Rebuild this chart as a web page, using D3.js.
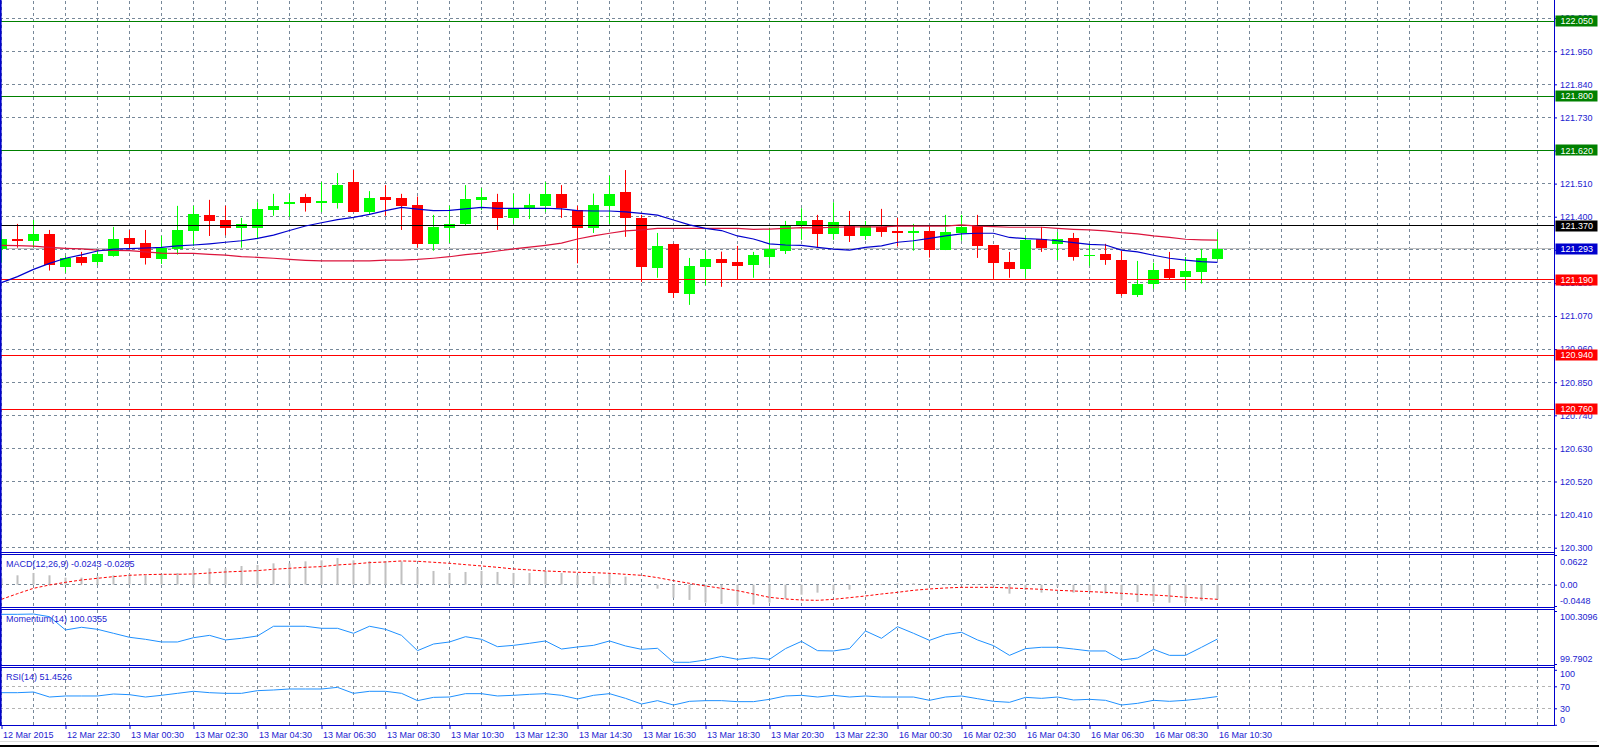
<!DOCTYPE html>
<html>
<head>
<meta charset="utf-8">
<script src="https://cdn.jsdelivr.net/npm/d3@7"></script>
<style>
  html, body { margin: 0; padding: 0; background: #ffffff; }
  svg { display: block; }
</style>
</head>
<body>
<svg id="chart" width="1599" height="747"></svg>
<script>
// ---------------- DATA ----------------
const timeLabels = ["12 Mar 2015","12 Mar 22:30","13 Mar 00:30","13 Mar 02:30","13 Mar 04:30","13 Mar 06:30","13 Mar 08:30","13 Mar 10:30","13 Mar 12:30","13 Mar 14:30","13 Mar 16:30","13 Mar 18:30","13 Mar 20:30","13 Mar 22:30","16 Mar 00:30","16 Mar 02:30","16 Mar 04:30","16 Mar 06:30","16 Mar 08:30","16 Mar 10:30"];

const open = [121.292,121.327,121.320,121.343,121.234,121.266,121.251,121.270,121.330,121.313,
121.261,121.292,121.354,121.406,121.389,121.361,121.361,121.422,121.443,121.465,
121.447,121.447,121.515,121.417,121.465,121.462,121.439,121.310,121.363,121.376,
121.456,121.449,121.396,121.429,121.436,121.476,121.422,121.363,121.436,121.482,
121.396,121.230,121.310,121.143,121.233,121.260,121.250,121.240,121.266,121.286,
121.369,121.389,121.343,121.373,121.336,121.366,121.353,121.346,121.353,121.290,
121.346,121.369,121.306,121.250,121.227,121.326,121.310,121.330,121.271,121.276,
121.256,121.140,121.177,121.227,121.200,121.217,121.261];

const high = [121.356,121.376,121.389,121.356,121.270,121.283,121.289,121.366,121.356,121.356,
121.336,121.436,121.436,121.456,121.436,121.396,121.448,121.476,121.476,121.476,
121.515,121.545,121.555,121.485,121.505,121.476,121.467,121.406,121.436,121.505,
121.495,121.476,121.476,121.476,121.515,121.505,121.436,121.477,121.535,121.555,
121.406,121.346,121.311,121.263,121.289,121.284,121.303,121.283,121.363,121.386,
121.428,121.406,121.448,121.419,121.386,121.426,121.396,121.376,121.369,121.406,
121.406,121.406,121.306,121.283,121.336,121.366,121.349,121.346,121.310,121.310,
121.286,121.253,121.247,121.283,121.266,121.293,121.349];

const low = [121.247,121.297,121.298,121.221,121.214,121.238,121.238,121.267,121.294,121.241,
121.243,121.274,121.303,121.336,121.338,121.297,121.325,121.403,121.400,121.417,
121.416,121.427,121.416,121.409,121.403,121.356,121.297,121.287,121.313,121.369,
121.422,121.356,121.376,121.392,121.416,121.396,121.245,121.346,121.376,121.333,
121.183,121.197,121.130,121.107,121.173,121.167,121.193,121.197,121.240,121.276,
121.323,121.297,121.323,121.316,121.323,121.333,121.301,121.287,121.264,121.289,
121.320,121.263,121.194,121.197,121.197,121.283,121.256,121.254,121.237,121.240,
121.137,121.133,121.160,121.190,121.157,121.178,121.258];

const close = [121.325,121.320,121.343,121.238,121.264,121.247,121.276,121.326,121.310,121.264,
121.296,121.356,121.409,121.387,121.361,121.376,121.426,121.436,121.449,121.447,
121.452,121.505,121.417,121.462,121.456,121.436,121.310,121.366,121.376,121.459,
121.465,121.396,121.426,121.439,121.476,121.429,121.363,121.439,121.476,121.396,
121.233,121.303,121.147,121.237,121.260,121.246,121.237,121.273,121.293,121.373,
121.386,121.343,121.383,121.336,121.373,121.349,121.346,121.353,121.290,121.349,
121.366,121.303,121.246,121.227,121.323,121.296,121.326,121.266,121.273,121.256,
121.143,121.177,121.223,121.197,121.220,121.263,121.293];

const maFast = [121.181,121.201,121.225,121.245,121.262,121.273,121.286,121.292,121.294,121.296,
121.298,121.303,121.306,121.310,121.315,121.320,121.328,121.339,121.354,121.369,
121.380,121.390,121.398,121.408,121.420,121.431,121.425,121.420,121.421,121.426,
121.431,121.428,121.428,121.428,121.428,121.426,121.420,121.419,121.419,121.416,
121.411,121.405,121.389,121.373,121.361,121.354,121.336,121.326,121.310,121.306,
121.305,121.298,121.292,121.289,121.298,121.303,121.315,121.320,121.328,121.336,
121.343,121.345,121.345,121.331,121.327,121.325,121.320,121.314,121.308,121.306,
121.289,121.283,121.272,121.262,121.256,121.251,121.248];

const maSlow = [121.305,121.304,121.302,121.298,121.295,121.293,121.289,121.288,121.287,121.283,
121.279,121.278,121.278,121.275,121.272,121.267,121.265,121.262,121.258,121.255,
121.253,121.253,121.253,121.253,121.256,121.256,121.258,121.262,121.267,121.274,
121.279,121.286,121.293,121.299,121.305,121.312,121.326,121.336,121.345,121.353,
121.356,121.361,121.361,121.361,121.361,121.361,121.361,121.358,121.359,121.361,
121.364,121.363,121.365,121.366,121.366,121.366,121.369,121.369,121.369,121.369,
121.373,121.369,121.367,121.365,121.365,121.365,121.361,121.358,121.356,121.353,
121.347,121.343,121.336,121.331,121.325,121.323,121.322];

const macdHist = [0.0133,0.0196,0.0245,0.0196,0.0147,0.0147,0.0175,0.0196,0.0224,0.0196,
0.0224,0.0245,0.0307,0.0342,0.0342,0.0391,0.0412,0.0447,0.0447,0.0489,
0.0510,0.0559,0.0510,0.0496,0.0496,0.0489,0.0342,0.0287,0.0245,0.0266,
0.0287,0.0266,0.0245,0.0245,0.0287,0.0245,0.0196,0.0182,0.0224,0.0168,
0.0014,-0.0084,-0.0273,-0.0321,-0.0377,-0.0405,-0.0426,-0.0419,-0.0377,-0.0293,
-0.0210,-0.0168,-0.0126,-0.0105,-0.0028,0.0014,0.0028,0.0028,0.0000,0.0014,
-0.0014,0.0007,-0.0028,-0.0189,-0.0112,-0.0168,-0.0042,-0.0168,-0.0126,-0.0189,
-0.0321,-0.0363,-0.0358,-0.0379,-0.0379,-0.0337,-0.0308];

const macdSignal = [-0.0308,-0.0189,-0.0077,-0.0007,0.0049,0.0098,0.0133,0.0168,0.0196,0.0210,
0.0217,0.0217,0.0224,0.0245,0.0266,0.0280,0.0294,0.0322,0.0343,0.0364,
0.0378,0.0413,0.0434,0.0462,0.0476,0.0497,0.0490,0.0469,0.0448,0.0420,
0.0392,0.0364,0.0329,0.0308,0.0287,0.0273,0.0259,0.0252,0.0238,0.0217,
0.0196,0.0147,0.0084,0.0028,-0.0028,-0.0077,-0.0126,-0.0196,-0.0266,-0.0301,
-0.0322,-0.0329,-0.0308,-0.0273,-0.0238,-0.0196,-0.0161,-0.0119,-0.0091,-0.0070,
-0.0056,-0.0056,-0.0056,-0.0070,-0.0084,-0.0098,-0.0119,-0.0133,-0.0147,-0.0161,
-0.0182,-0.0203,-0.0217,-0.0238,-0.0266,-0.0287,-0.0308];

const momentum = [100.277,100.277,100.280,100.254,100.124,100.150,100.130,100.091,100.052,100.032,
100.006,100.006,100.048,100.071,100.026,100.042,100.065,100.160,100.160,100.160,
100.140,100.140,100.091,100.160,100.130,100.071,99.921,99.986,100.006,100.058,
100.032,99.960,99.973,99.993,100.016,99.937,99.957,99.973,100.016,99.967,
99.934,99.944,99.807,99.807,99.829,99.865,99.836,99.852,99.836,99.941,
100.012,99.921,99.918,99.941,100.114,100.042,100.156,100.091,100.022,100.078,
100.101,100.026,99.970,99.875,99.941,99.954,99.954,99.937,99.918,99.918,
99.829,99.849,99.934,99.875,99.875,99.954,100.0355];

const rsi = [58.4,58.4,59.6,50.5,52.4,52.4,52.4,56.0,54.8,50.5,
53.6,57.2,60.9,58.4,57.2,57.2,62.1,63.3,65.1,65.1,
65.1,68.1,57.2,60.9,60.9,57.2,43.9,49.9,50.5,56.6,
56.6,52.4,53.6,55.4,56.6,53.6,46.9,53.6,56.6,48.1,
37.8,43.9,36.0,42.7,43.9,43.9,42.1,42.1,46.3,52.4,
53.6,50.5,53.6,50.5,52.4,50.5,50.5,50.5,44.5,50.5,
52.4,47.5,42.7,40.9,49.9,48.1,50.5,45.1,46.3,44.5,
36.0,39.0,44.5,42.7,44.5,47.5,51.45];

const priceTicks = [120.300,120.410,120.520,120.630,120.740,120.850,120.960,121.070,121.180,121.290,121.400,121.510,121.620,121.730,121.840,121.950,122.060];
const resistanceLevels = [122.050, 121.800, 121.620];
const pivotLevels = [121.370];
const supportLevels = [121.190, 120.940, 120.760];
const bidPrice = 121.293;
const macdTicks = [0.0622, 0, -0.0448];
const macdTickText = ["0.0622", "0.00", "-0.0448"];
const momentumTicks = [100.3096, 99.7902];
const rsiTicks = [100, 70, 30, 0];
const rsiLevels = [70, 30];
const macdTitle = "MACD(12,26,9) -0.0243 -0.0285";
const momentumTitle = "Momentum(14) 100.0355";
const rsiTitle = "RSI(14) 51.4526";

// ---------------- LAYOUT ----------------
const W = 1599, H = 747;
const AXIS_X = 1554.5;
const FONT = "Liberation Sans, Arial, sans-serif";
const TEXT_COLOR = "#1c1cd0";
const FRAME = "#0000cc";
const GRID = "#778899";
const UP = "#00ff00", DOWN = "#ff0000";
const N = close.length;

const svg = d3.select("#chart");
const crisp = v => Math.round(v - 0.5) + 0.5;

const x = d3.scaleLinear().domain([0, N - 1]).range([1.5, 1.5 + 16 * (N - 1)]);
const yP = d3.scaleLinear().domain([120.3, 122.06]).range([547.7, 18.1]);
const yM = d3.scaleLinear().domain([-0.0448, 0.0622]).range([606, 555]);
const yMo = d3.scaleLinear().domain([99.7902, 100.3096]).range([664, 611]);
const yR = d3.scaleLinear().domain([0, 100]).range([724.8, 669.8]);

const panels = [
  {top: 0, bottom: 552},
  {top: 554, bottom: 607},
  {top: 609, bottom: 665},
  {top: 667, bottom: 725.5}
];

// clip paths
const defs = svg.append("defs");
panels.forEach((p, i) => {
  defs.append("clipPath").attr("id", "clip" + i)
    .append("rect").attr("x", 1).attr("y", p.top).attr("width", AXIS_X - 1).attr("height", p.bottom - p.top);
});

// ---------------- GRID ----------------
const vgrid = svg.append("g");
panels.forEach(p => {
  for (let i = 0; x(i) < AXIS_X - 2; i += 2) {
    vgrid.append("line")
      .attr("x1", crisp(x(i))).attr("x2", crisp(x(i)))
      .attr("y1", p.top + 1).attr("y2", p.bottom)
      .attr("stroke", GRID).attr("stroke-dasharray", "3,3");
  }
});
const hgrid = svg.append("g");
priceTicks.forEach(t => {
  hgrid.append("line").attr("x1", 0).attr("x2", AXIS_X)
    .attr("y1", crisp(yP(t))).attr("y2", crisp(yP(t)))
    .attr("stroke", GRID).attr("stroke-dasharray", "3,3");
});
// macd zero line
hgrid.append("line").attr("x1", 0).attr("x2", AXIS_X)
  .attr("y1", crisp(yM(0))).attr("y2", crisp(yM(0)))
  .attr("stroke", GRID).attr("stroke-dasharray", "3,3");
// rsi levels
rsiLevels.forEach(l => {
  hgrid.append("line").attr("x1", 0).attr("x2", AXIS_X)
    .attr("y1", crisp(yR(l))).attr("y2", crisp(yR(l)))
    .attr("stroke", "#b4b4b4").attr("stroke-dasharray", "3,3");
});

// ---------------- MAIN PANEL ----------------
const main = svg.append("g").attr("clip-path", "url(#clip0)");

// bid line
main.append("line").attr("x1", 0).attr("x2", AXIS_X)
  .attr("y1", crisp(yP(bidPrice))).attr("y2", crisp(yP(bidPrice)))
  .attr("stroke", "#c0c0c0");

// candles
const idx = d3.range(N);
const cg = main.append("g");
idx.forEach(i => {
  const col = close[i] >= open[i] ? UP : DOWN;
  const xc = crisp(x(i));
  cg.append("line").attr("x1", xc).attr("x2", xc)
    .attr("y1", yP(high[i])).attr("y2", yP(low[i]))
    .attr("stroke", col).attr("stroke-width", 1);
  const yt = yP(Math.max(open[i], close[i]));
  const yb = yP(Math.min(open[i], close[i]));
  cg.append("rect")
    .attr("x", xc - 5.5).attr("width", 11)
    .attr("y", Math.round(yt)).attr("height", Math.max(1, Math.round(yb) - Math.round(yt)))
    .attr("fill", col);
});

// level lines
const levelGroups = [
  {vals: resistanceLevels, color: "#008000"},
  {vals: pivotLevels, color: "#000000"},
  {vals: supportLevels, color: "#ff0000"}
];
levelGroups.forEach(g => g.vals.forEach(v => {
  main.append("line").attr("x1", 0).attr("x2", AXIS_X)
    .attr("y1", crisp(yP(v))).attr("y2", crisp(yP(v)))
    .attr("stroke", g.color).attr("stroke-width", 1);
}));

// moving averages
const lineP = arr => d3.line().x((d, i) => x(i)).y(d => yP(d))(arr);
main.append("path").attr("d", lineP(maSlow)).attr("fill", "none").attr("stroke", "#dc143c").attr("stroke-width", 1.2);
main.append("path").attr("d", lineP(maFast)).attr("fill", "none").attr("stroke", "#0000cd").attr("stroke-width", 1.2);

// ---------------- MACD ----------------
const mg = svg.append("g").attr("clip-path", "url(#clip1)");
idx.forEach(i => {
  const y0 = yM(0), y1 = yM(macdHist[i]);
  mg.append("rect").attr("x", crisp(x(i)) - 1).attr("width", 2)
    .attr("y", Math.min(y0, y1)).attr("height", Math.max(0.5, Math.abs(y1 - y0)))
    .attr("fill", "#c0c0c0");
});
mg.append("path").attr("d", d3.line().x((d, i) => x(i)).y(d => yM(d))(macdSignal))
  .attr("fill", "none").attr("stroke", "#ff0000").attr("stroke-width", 1).attr("stroke-dasharray", "3,2");

// ---------------- MOMENTUM ----------------
svg.append("g").attr("clip-path", "url(#clip2)")
  .append("path").attr("d", d3.line().x((d, i) => x(i)).y(d => yMo(d))(momentum))
  .attr("fill", "none").attr("stroke", "#1e90ff").attr("stroke-width", 1);

// ---------------- RSI ----------------
svg.append("g").attr("clip-path", "url(#clip3)")
  .append("path").attr("d", d3.line().x((d, i) => x(i)).y(d => yR(d))(rsi))
  .attr("fill", "none").attr("stroke", "#1e90ff").attr("stroke-width", 1);

// ---------------- FRAMES ----------------
const frame = svg.append("g").attr("stroke", FRAME).attr("stroke-width", 1);
panels.forEach(p => {
  if (p.top > 0) frame.append("line").attr("x1", 0).attr("x2", AXIS_X).attr("y1", crisp(p.top) ).attr("y2", crisp(p.top));
  frame.append("line").attr("x1", 0).attr("x2", AXIS_X).attr("y1", crisp(p.bottom)).attr("y2", crisp(p.bottom));
});
frame.append("line").attr("x1", AXIS_X).attr("x2", AXIS_X).attr("y1", 0).attr("y2", 726);
svg.append("rect").attr("x", 0).attr("y", 0).attr("width", 1.6).attr("height", 726).attr("fill", FRAME);

// ---------------- AXES ----------------
function styleAxis(g) {
  g.select(".domain").remove();
  g.attr("font-family", FONT).attr("font-size", 9);
  g.selectAll(".tick line").attr("stroke", FRAME);
  g.selectAll(".tick text").attr("fill", TEXT_COLOR);
}
const gPrice = svg.append("g").attr("transform", `translate(${AXIS_X - 0.5},0)`)
  .call(d3.axisRight(yP).tickValues(priceTicks).tickFormat(d3.format(".3f")).tickSize(3).tickPadding(3));
styleAxis(gPrice);

const macdOffsets = [6.7, 0, -5.3];
const gMacd = svg.append("g").attr("transform", `translate(${AXIS_X - 0.5},0)`)
  .call(d3.axisRight(yM).tickValues(macdTicks).tickFormat((d, i) => macdTickText[i]).tickSize(3).tickPadding(3));
styleAxis(gMacd);
gMacd.selectAll(".tick text").attr("y", (d, i) => macdOffsets[i]);

const moOffsets = [5.7, -5.7];
const gMo = svg.append("g").attr("transform", `translate(${AXIS_X - 0.5},0)`)
  .call(d3.axisRight(yMo).tickValues(momentumTicks).tickFormat(d3.format(".4f")).tickSize(3).tickPadding(3));
styleAxis(gMo);
gMo.selectAll(".tick text").attr("y", (d, i) => moOffsets[i]);

const rsiOffsets = [4.2, 0, 0, -5.5];
const gR = svg.append("g").attr("transform", `translate(${AXIS_X - 0.5},0)`)
  .call(d3.axisRight(yR).tickValues(rsiTicks).tickFormat(d3.format("d")).tickSize(3).tickPadding(3));
styleAxis(gR);
gR.selectAll(".tick text").attr("y", (d, i) => rsiOffsets[i]);

// time axis
const timeTickIdx = timeLabels.map((t, j) => j * 4);
const gT = svg.append("g").attr("transform", `translate(0,${crisp(725.5) - 0.5})`)
  .call(d3.axisBottom(x).tickValues(timeTickIdx).tickFormat((d, j) => timeLabels[j]).tickSize(4).tickPadding(3));
styleAxis(gT);
gT.selectAll(".tick text").attr("text-anchor", "start").attr("x", 1);

// ---------------- LEVEL LABEL BOXES ----------------
const boxG = svg.append("g").attr("font-family", FONT).attr("font-size", 9);
function priceBox(v, bg) {
  const yc = yP(v);
  boxG.append("rect").attr("x", AXIS_X + 1).attr("y", Math.round(yc) - 5.5).attr("width", 42).attr("height", 11).attr("fill", bg);
  boxG.append("text").attr("x", AXIS_X + 6).attr("y", yc).attr("dy", "0.34em")
    .attr("fill", "#ffffff").text(d3.format(".3f")(v));
}
resistanceLevels.forEach(v => priceBox(v, "#008000"));
pivotLevels.forEach(v => priceBox(v, "#000000"));
priceBox(bidPrice, "#0000cd");
supportLevels.forEach(v => priceBox(v, "#ff0000"));

// ---------------- TITLES ----------------
const titles = [
  {t: macdTitle, y: 563.5},
  {t: momentumTitle, y: 618.5},
  {t: rsiTitle, y: 676.5}
];
svg.append("g").attr("font-family", FONT).attr("font-size", 9).attr("fill", TEXT_COLOR)
  .selectAll("text").data(titles).join("text")
  .attr("x", 6).attr("y", d => d.y).attr("dy", "0.34em").text(d => d.t);

// ---------------- WINDOW EDGE ----------------
svg.append("line").attr("x1", 0).attr("x2", 1597).attr("y1", 741.5).attr("y2", 741.5).attr("stroke", "#dcdcdc");
svg.append("rect").attr("x", 0).attr("y", 745).attr("width", W).attr("height", 2).attr("fill", "#000000");
</script>
</body>
</html>
